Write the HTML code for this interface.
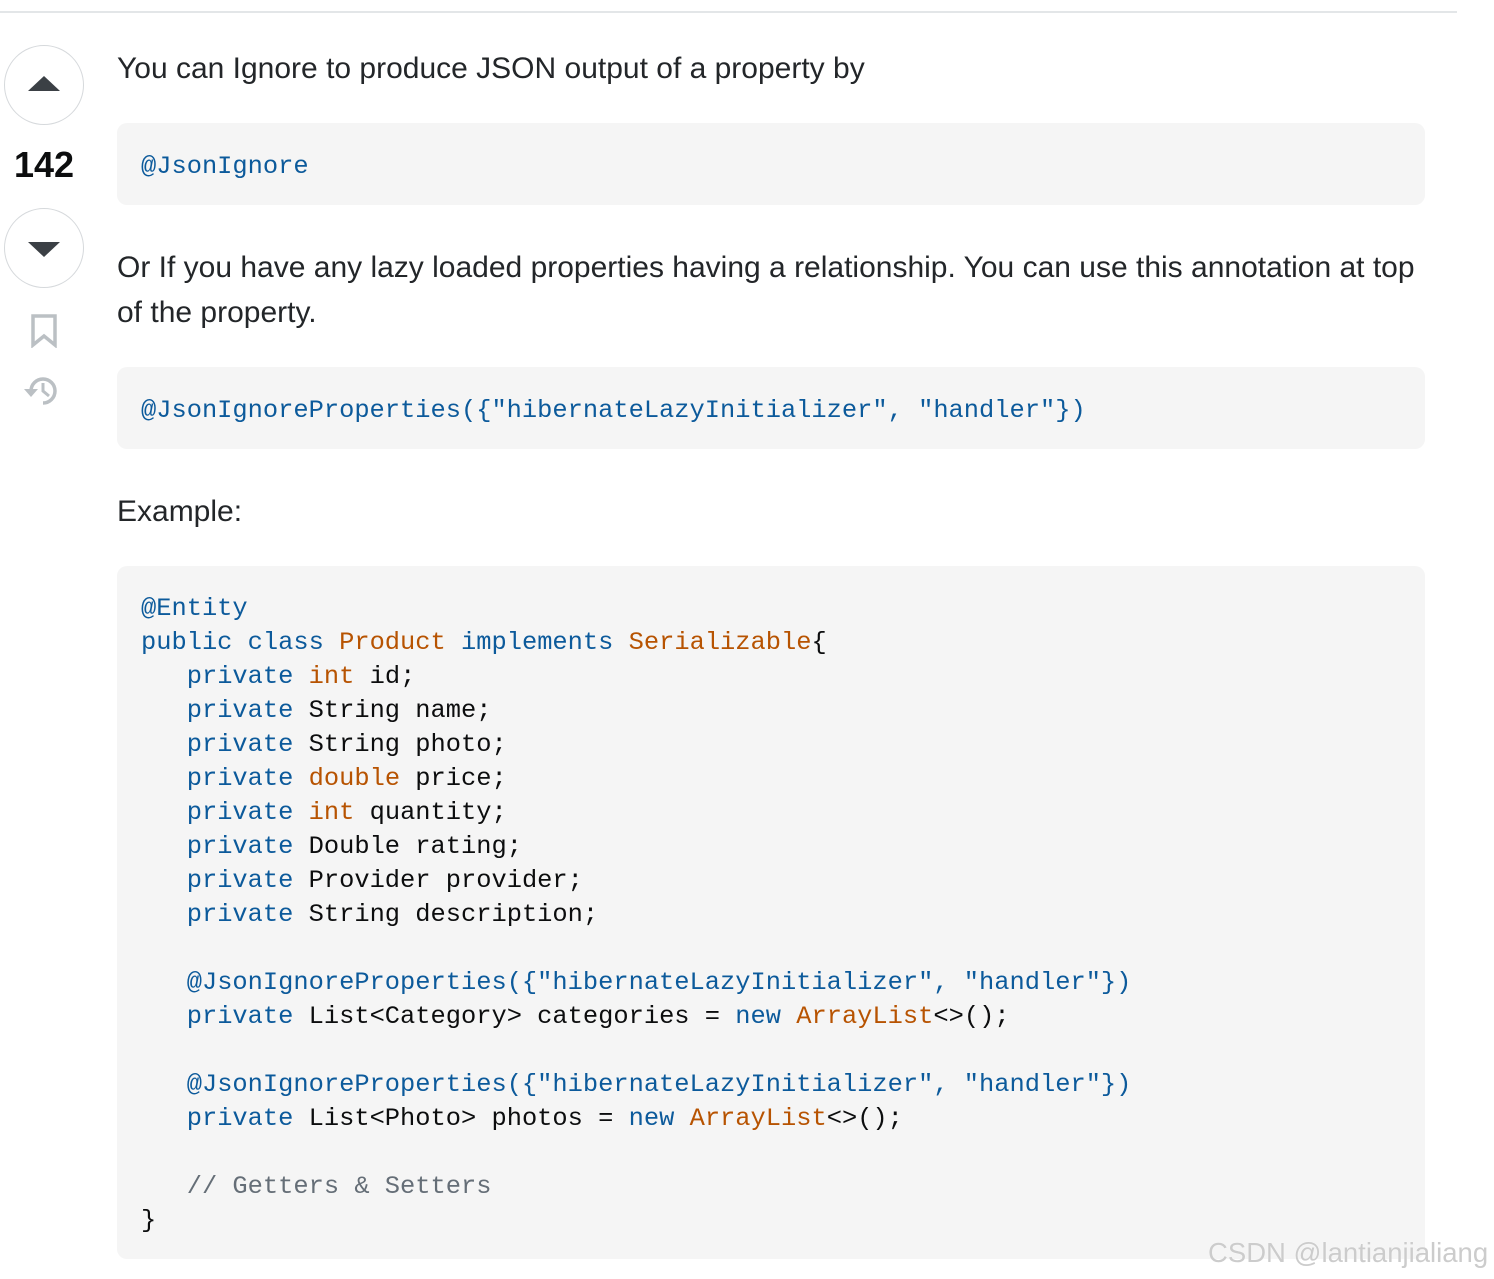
<!DOCTYPE html>
<html><head><meta charset="utf-8"><style>
body{margin:0;width:1494px;height:1279px;background:#fff;position:relative;overflow:hidden;font-family:"Liberation Sans",sans-serif;color:#232629}
.hr{position:absolute;left:0;top:11px;width:1457px;height:2px;background:#e3e6e8}
.t{position:absolute;left:117px;font-size:30px;line-height:45px;white-space:nowrap}
.blk{position:absolute;left:117px;width:1308px;background:#f5f5f5;border-radius:10px}
pre{margin:0;position:absolute;left:141px;font-family:"Liberation Mono",monospace;font-size:25.4px;line-height:34px;color:#0c0d0e}
.b{color:#0c5a9b}.o{color:#b75301}.c{color:#656e77}
.circ{position:absolute;left:4px;width:78px;height:78px;border:1.5px solid #d6d9dc;border-radius:50%}
.up{position:absolute;left:28px;top:76px;width:0;height:0;border-left:16px solid transparent;border-right:16px solid transparent;border-bottom:15px solid #3b4045}
.dn{position:absolute;left:28px;top:242px;width:0;height:0;border-left:16px solid transparent;border-right:16px solid transparent;border-top:15px solid #3b4045}
.num{position:absolute;left:0;width:88px;top:144px;text-align:center;font-size:36px;font-weight:bold;color:#0c0d0e}
.wm{position:absolute;left:1208px;top:1237px;font-size:27.5px;color:#ccc;text-shadow:0 0 1px #fff}
</style></head><body>
<div class="hr"></div>
<div class="circ" style="top:45px"></div><div class="up"></div>
<div class="num">142</div>
<div class="circ" style="top:208px"></div><div class="dn"></div>
<svg style="position:absolute;left:30px;top:314px" width="28" height="34" viewBox="0 0 28 34"><path d="M3 2H25V31L14 22L3 31Z" fill="none" stroke="#bbc0c4" stroke-width="3.5" stroke-linejoin="miter"/></svg>
<svg style="position:absolute;left:22px;top:372px" width="40" height="38" viewBox="0 0 40 38"><path d="M9 19A12 12 0 1 1 21 31" fill="none" stroke="#bbc0c4" stroke-width="3.5"/><path d="M2 17L9 25L16 17Z" fill="#bbc0c4"/><path d="M21 11V19L27 24" fill="none" stroke="#bbc0c4" stroke-width="3"/></svg>

<div class="t" style="top:46px">You can Ignore to produce JSON output of a property by</div>
<div class="blk" style="top:123px;height:82px"></div>
<pre style="top:150px"><span class="b">@JsonIgnore</span></pre>
<div class="t" style="top:245px">Or If you have any lazy loaded properties having a relationship. You can use this annotation at top</div>
<div class="t" style="top:290px">of the property.</div>
<div class="blk" style="top:367px;height:82px"></div>
<pre style="top:394px"><span class="b">@JsonIgnoreProperties({"hibernateLazyInitializer", "handler"})</span></pre>
<div class="t" style="top:489px">Example:</div>
<div class="blk" style="top:566px;height:693px"></div>
<pre style="top:592px"><span class="b">@Entity</span>
<span class="b">public class</span> <span class="o">Product</span> <span class="b">implements</span> <span class="o">Serializable</span>{
   <span class="b">private</span> <span class="o">int</span> id;
   <span class="b">private</span> String name;
   <span class="b">private</span> String photo;
   <span class="b">private</span> <span class="o">double</span> price;
   <span class="b">private</span> <span class="o">int</span> quantity;
   <span class="b">private</span> Double rating;
   <span class="b">private</span> Provider provider;
   <span class="b">private</span> String description;

   <span class="b">@JsonIgnoreProperties({"hibernateLazyInitializer", "handler"})</span>
   <span class="b">private</span> List&lt;Category&gt; categories = <span class="b">new</span> <span class="o">ArrayList</span>&lt;&gt;();

   <span class="b">@JsonIgnoreProperties({"hibernateLazyInitializer", "handler"})</span>
   <span class="b">private</span> List&lt;Photo&gt; photos = <span class="b">new</span> <span class="o">ArrayList</span>&lt;&gt;();

   <span class="c">// Getters &amp; Setters</span>
}</pre>
<div class="wm">CSDN @lantianjialiang</div>
</body></html>
